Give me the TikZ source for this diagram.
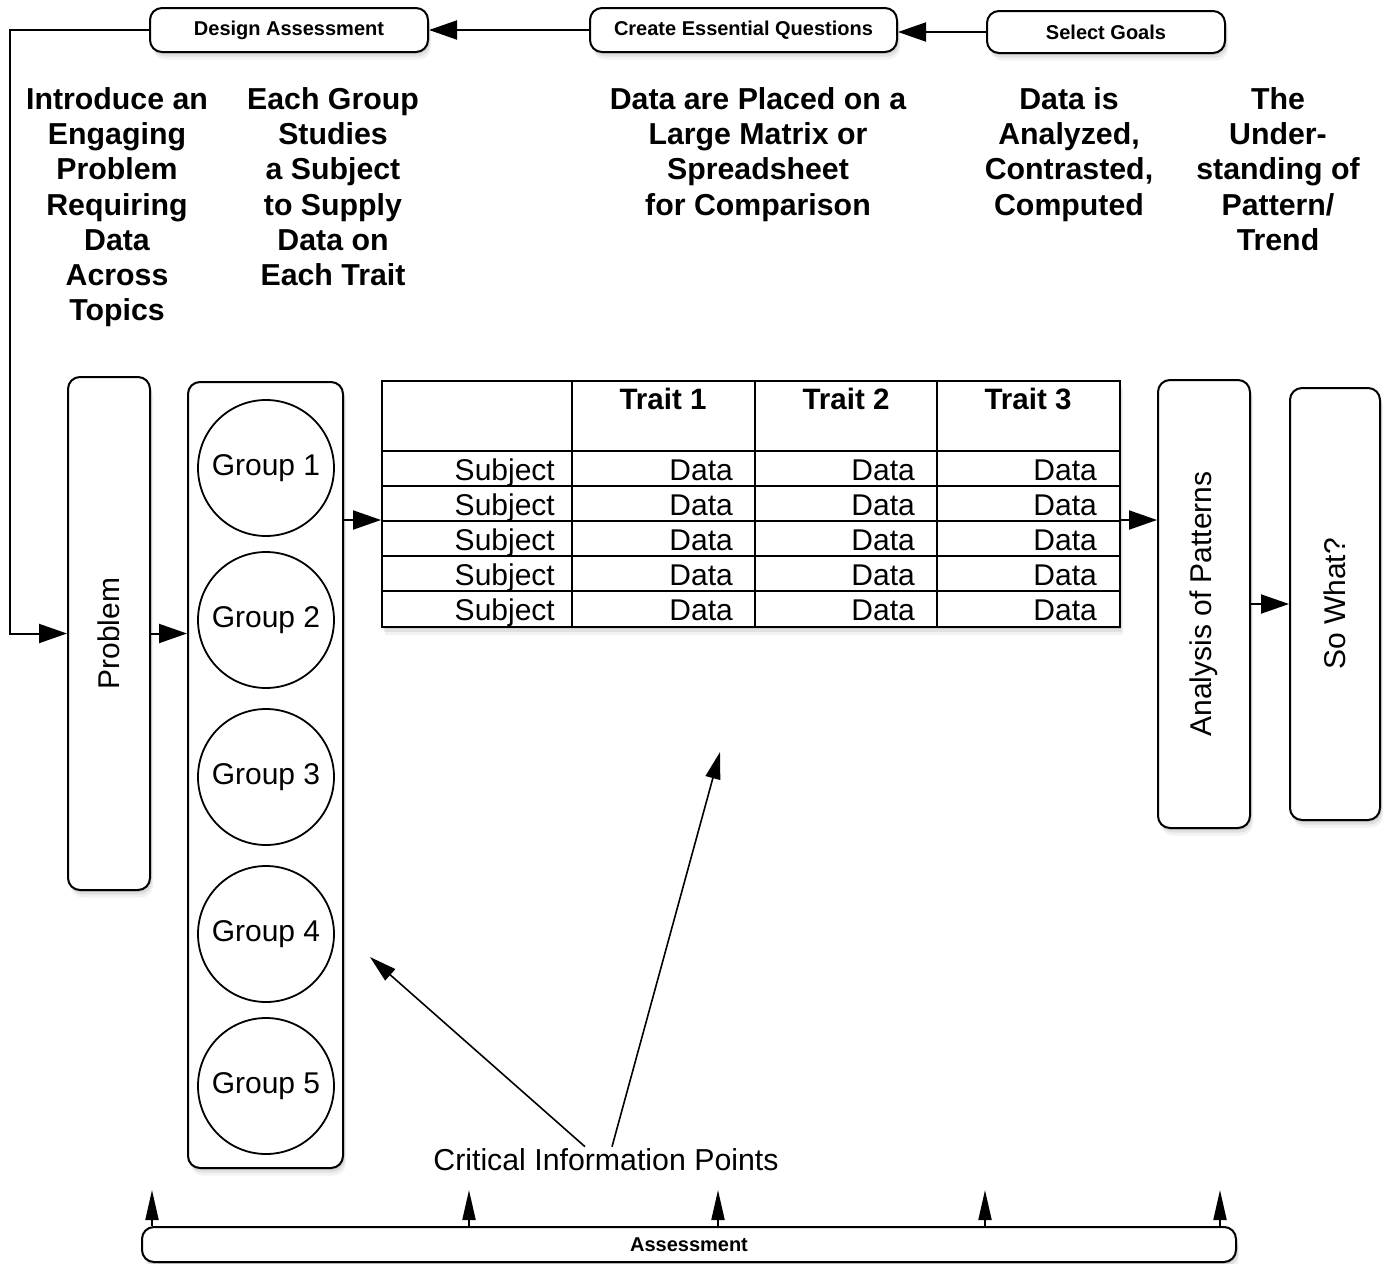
\documentclass[tikz,border=0pt]{standalone}
\usepackage{fontspec}
\setmainfont{Liberation Sans}
\usepackage{tikz}
\usetikzlibrary{arrows.meta,positioning,shadows}
\definecolor{inkblack}{HTML}{000000}
\definecolor{paper}{HTML}{FFFFFF}
\tikzset{
  softshadow/.style = {drop shadow={opacity=0.20, shadow xshift=1pt, shadow yshift=-2pt},
                       drop shadow={opacity=0.15, shadow xshift=2pt, shadow yshift=-4.5pt},
                       drop shadow={opacity=0.10, shadow xshift=3pt, shadow yshift=-7.5pt}},
  stepbox/.style   = {rounded corners=12pt, draw=inkblack, line width=2pt, fill=paper,
                      softshadow, minimum height=44pt, font=\fontsize{20}{22}\selectfont\bfseries},
  tallbox/.style   = {rounded corners=12pt, draw=inkblack, line width=2pt, fill=paper, softshadow},
  vlabel/.style    = {rotate=90, inner sep=0pt, font=\fontsize{30}{34}\selectfont},
  tablebox/.style  = {draw=inkblack, line width=2pt, fill=paper, softshadow},
  gridline/.style  = {draw=inkblack, line width=2pt},
  groupdisc/.style = {circle, draw=inkblack, line width=1.8pt, fill=paper, minimum size=136pt,
                      font=\fontsize{30}{34}\selectfont},
  headtext/.style  = {align=center, anchor=north, inner sep=0pt,
                      font=\fontsize{30.3}{35.3}\selectfont\bfseries},
  traittext/.style = {inner sep=0pt, font=\fontsize{29.5}{34}\selectfont\bfseries},
  celltext/.style  = {anchor=base east, inner sep=0pt, font=\fontsize{30}{34}\selectfont},
  plaintext/.style = {inner sep=2pt, font=\fontsize{30.3}{34}\selectfont},
  flow/.style      = {-{Triangle[length=28pt,width=19pt]}, draw=inkblack, line width=2pt},
  thinflow/.style  = {-{Triangle[length=27pt,width=15pt]}, draw=inkblack, line width=1.6pt},
  tickflow/.style  = {-{Triangle[length=30pt,width=13pt]}, draw=inkblack, line width=2pt},
}

\begin{document}
\begin{tikzpicture}[x=1pt,y=-1pt]
  \useasboundingbox (0,0) rectangle (1390,1264);

  % planning steps along the top
  \node[stepbox,minimum width=278pt] (design) at (289,30) {Design Assessment};
  \node[stepbox,minimum width=307pt] (questions) at (743.5,30) {Create Essential Questions};
  \node[stepbox,minimum width=238pt,minimum height=42pt] (goals) at (1106,32) {Select Goals};
  \draw[flow] (goals.west) -- (goals.west -| questions.east);
  \draw[flow] (questions.west) -- (design.east);

  % headings
  \node[headtext] (introhead) at (117,87) {Introduce an\\Engaging\\Problem\\Requiring\\Data\\Across\\Topics};
  \node[headtext] (grouphead) at (333,87) {Each Group\\Studies\\a Subject\\to Supply\\Data on\\Each Trait};
  \node[headtext] (matrixhead) at (758,87) {Data are Placed on a\\Large Matrix or\\Spreadsheet\\for Comparison};
  \node[headtext] (datahead) at (1069,87) {Data is\\Analyzed,\\Contrasted,\\Computed};
  \node[headtext] (patternhead) at (1278,87) {The\\Under-\\standing of\\Pattern/\\Trend};

  % main flow
  \node[tallbox,minimum width=82pt,minimum height=513pt,
        label={[vlabel]center:Problem}] (problem) at (109,633.5) {};
  \node[tallbox,minimum width=155pt,minimum height=786pt] (groups) at (265.5,775) {};
  \foreach \y [count=\i] in {468,620,777,934,1086}
    \node[groupdisc] (group\i) at (266,\y) {Group \i};

  % the matrix
  \node[tablebox,minimum width=738pt,minimum height=246pt] (matrix) at (751,504) {};
  \foreach \x in {572,755,937}
    \draw[gridline] (\x,381) -- (\x,627);
  \foreach \y in {451,486,521,556,591}
    \draw[gridline] (382,\y) -- (1120,\y);
  \node[traittext] (trait1) at (663,399) {Trait 1};
  \node[traittext] (trait2) at (846,399) {Trait 2};
  \node[traittext] (trait3) at (1028,399) {Trait 3};
  \foreach \y [count=\i] in {480,515,550,585,620} {
    \node[celltext] (subject\i) at (555,\y) {Subject};
    \node[celltext] (dataa\i) at (733,\y) {Data};
    \node[celltext] (datab\i) at (915,\y) {Data};
    \node[celltext] (datac\i) at (1097,\y) {Data};
  }

  \node[tallbox,minimum width=92pt,minimum height=448pt,
        label={[vlabel]center:Analysis of Patterns}] (analysis) at (1204,604) {};
  \node[tallbox,minimum width=90pt,minimum height=432pt,
        label={[vlabel]center:So What?}] (sowhat) at (1335,604) {};

  \coordinate (loopx) at (10,0);
  \coordinate (midrow) at (0,520);
  \draw[flow] (design.west) -- (design.west -| loopx) |- (problem.west);
  \draw[flow] (problem.east) -- (problem.east -| groups.west);
  \draw[flow] (groups.east |- midrow) -- (matrix.west |- midrow);
  \draw[flow] (matrix.east |- midrow) -- (analysis.west |- midrow);
  \draw[flow] (analysis.east) -- (sowhat.west);

  % critical information points
  \node[plaintext] (cip) at (606,1160) {Critical Information Points};
  \coordinate (grouptip) at (370,957);
  \coordinate (tabletip) at (720,752);
  \draw[thinflow] ([xshift=-21pt]cip.north) -- (grouptip);
  \draw[thinflow] ([xshift=6pt]cip.north) -- (tabletip);

  % assessment bar
  \node[stepbox,minimum width=1094pt,minimum height=35pt] (assess) at (689,1244.5) {Assessment};
  \foreach \x [count=\i] in {152,469,718,985,1220} {
    \coordinate (check\i) at (\x,1190);
    \draw[tickflow] (assess.north -| check\i) -- (check\i);
  }
\end{tikzpicture}
\end{document}
